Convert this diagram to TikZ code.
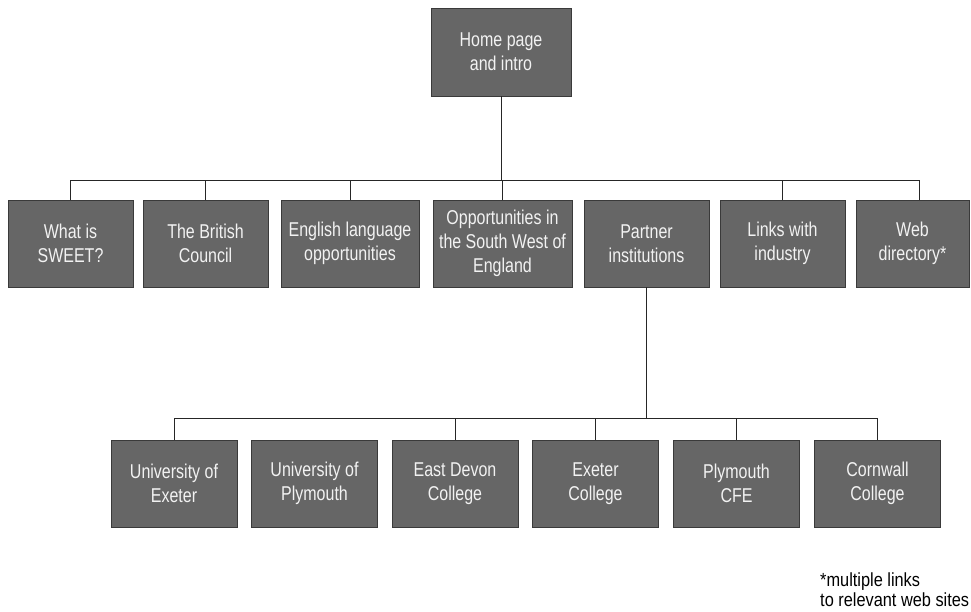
\documentclass[tikz,border=0pt]{standalone}
\usepackage{fontspec}
\setmainfont{Liberation Sans}[FakeStretch=0.8]
\newfontfamily\notefont{Liberation Sans}[FakeStretch=0.86]
\usepackage{tikz}
\usetikzlibrary{positioning}
\usetikzlibrary{calc}
\definecolor{boxgray}{HTML}{666666}
\definecolor{boxedge}{HTML}{3A3A3A}
\definecolor{boxtext}{HTML}{F2F2F2}
\tikzstyle{pagebox}=[rectangle,fill=boxgray,draw=boxedge,line width=0.8pt,text=boxtext,align=center,minimum height=87pt,inner sep=0pt,font=\fontsize{20}{24}\selectfont]
\tikzstyle{link} = [draw,line width=0.9pt,black!85]
\tikzstyle{note} = [font=\notefont\fontsize{19}{20}\selectfont,align=left,anchor=north west,inner sep=0pt]

\begin{document}
\begin{tikzpicture}[x=1pt,y=-1pt]

  \useasboundingbox (0,0) rectangle (971,611);

  \node[pagebox,minimum width=140pt,minimum height=88pt] (home) at (501,52) {Home page\\and intro};

   \foreach \x/\w/\name/\label in { 70.5/125/what/{What is\\SWEET?}, 205.5/125/council/{The British\\Council}, 350/138/english/{English language\\opportunities}, 502.5/139/southwest/{Opportunities in\\the South West of\\England}, 646.5/125/partner/{Partner\\institutions}, 782.5/125/industry/{Links with\\industry}, 912.5/113/webdir/{Web\\directory*}}
          \node[pagebox,minimum width=\w pt] (\name) at (\x, 243.5) {\label};

   \foreach \x/\name/\label in { 174/uexeter/{University of\\Exeter}, 314.5/uplymouth/{University of\\Plymouth}, 455/eastdevon/{East Devon\\College}, 595.5/exeter/{Exeter\\College}, 736.5/plymcfe/{Plymouth\\CFE}, 877.5/cornwall/{Cornwall\\College}}
          \node[pagebox,minimum width=126pt] (\name) at (\x, 483.5) {\label};

  \coordinate (bus1) at (501,180);
  \coordinate (bus2) at (646.5,418);

  \draw[link] (home.south) -- (bus1);
  \foreach \dest in {what, council, english, southwest, industry}
         \draw[link] (bus1) -| (\dest.north);
  \draw[link] (bus1) -| ([xshift=6.5pt]webdir.north);

  \draw[link] (partner.south) -- (bus2);
  \foreach \dest in {uexeter, eastdevon, exeter, plymcfe, cornwall}
         \draw[link] (bus2) -| (\dest.north);

  \node[note] (footnote) at (820,573) {*multiple links\\to relevant web sites};

\end{tikzpicture}
\end{document}
